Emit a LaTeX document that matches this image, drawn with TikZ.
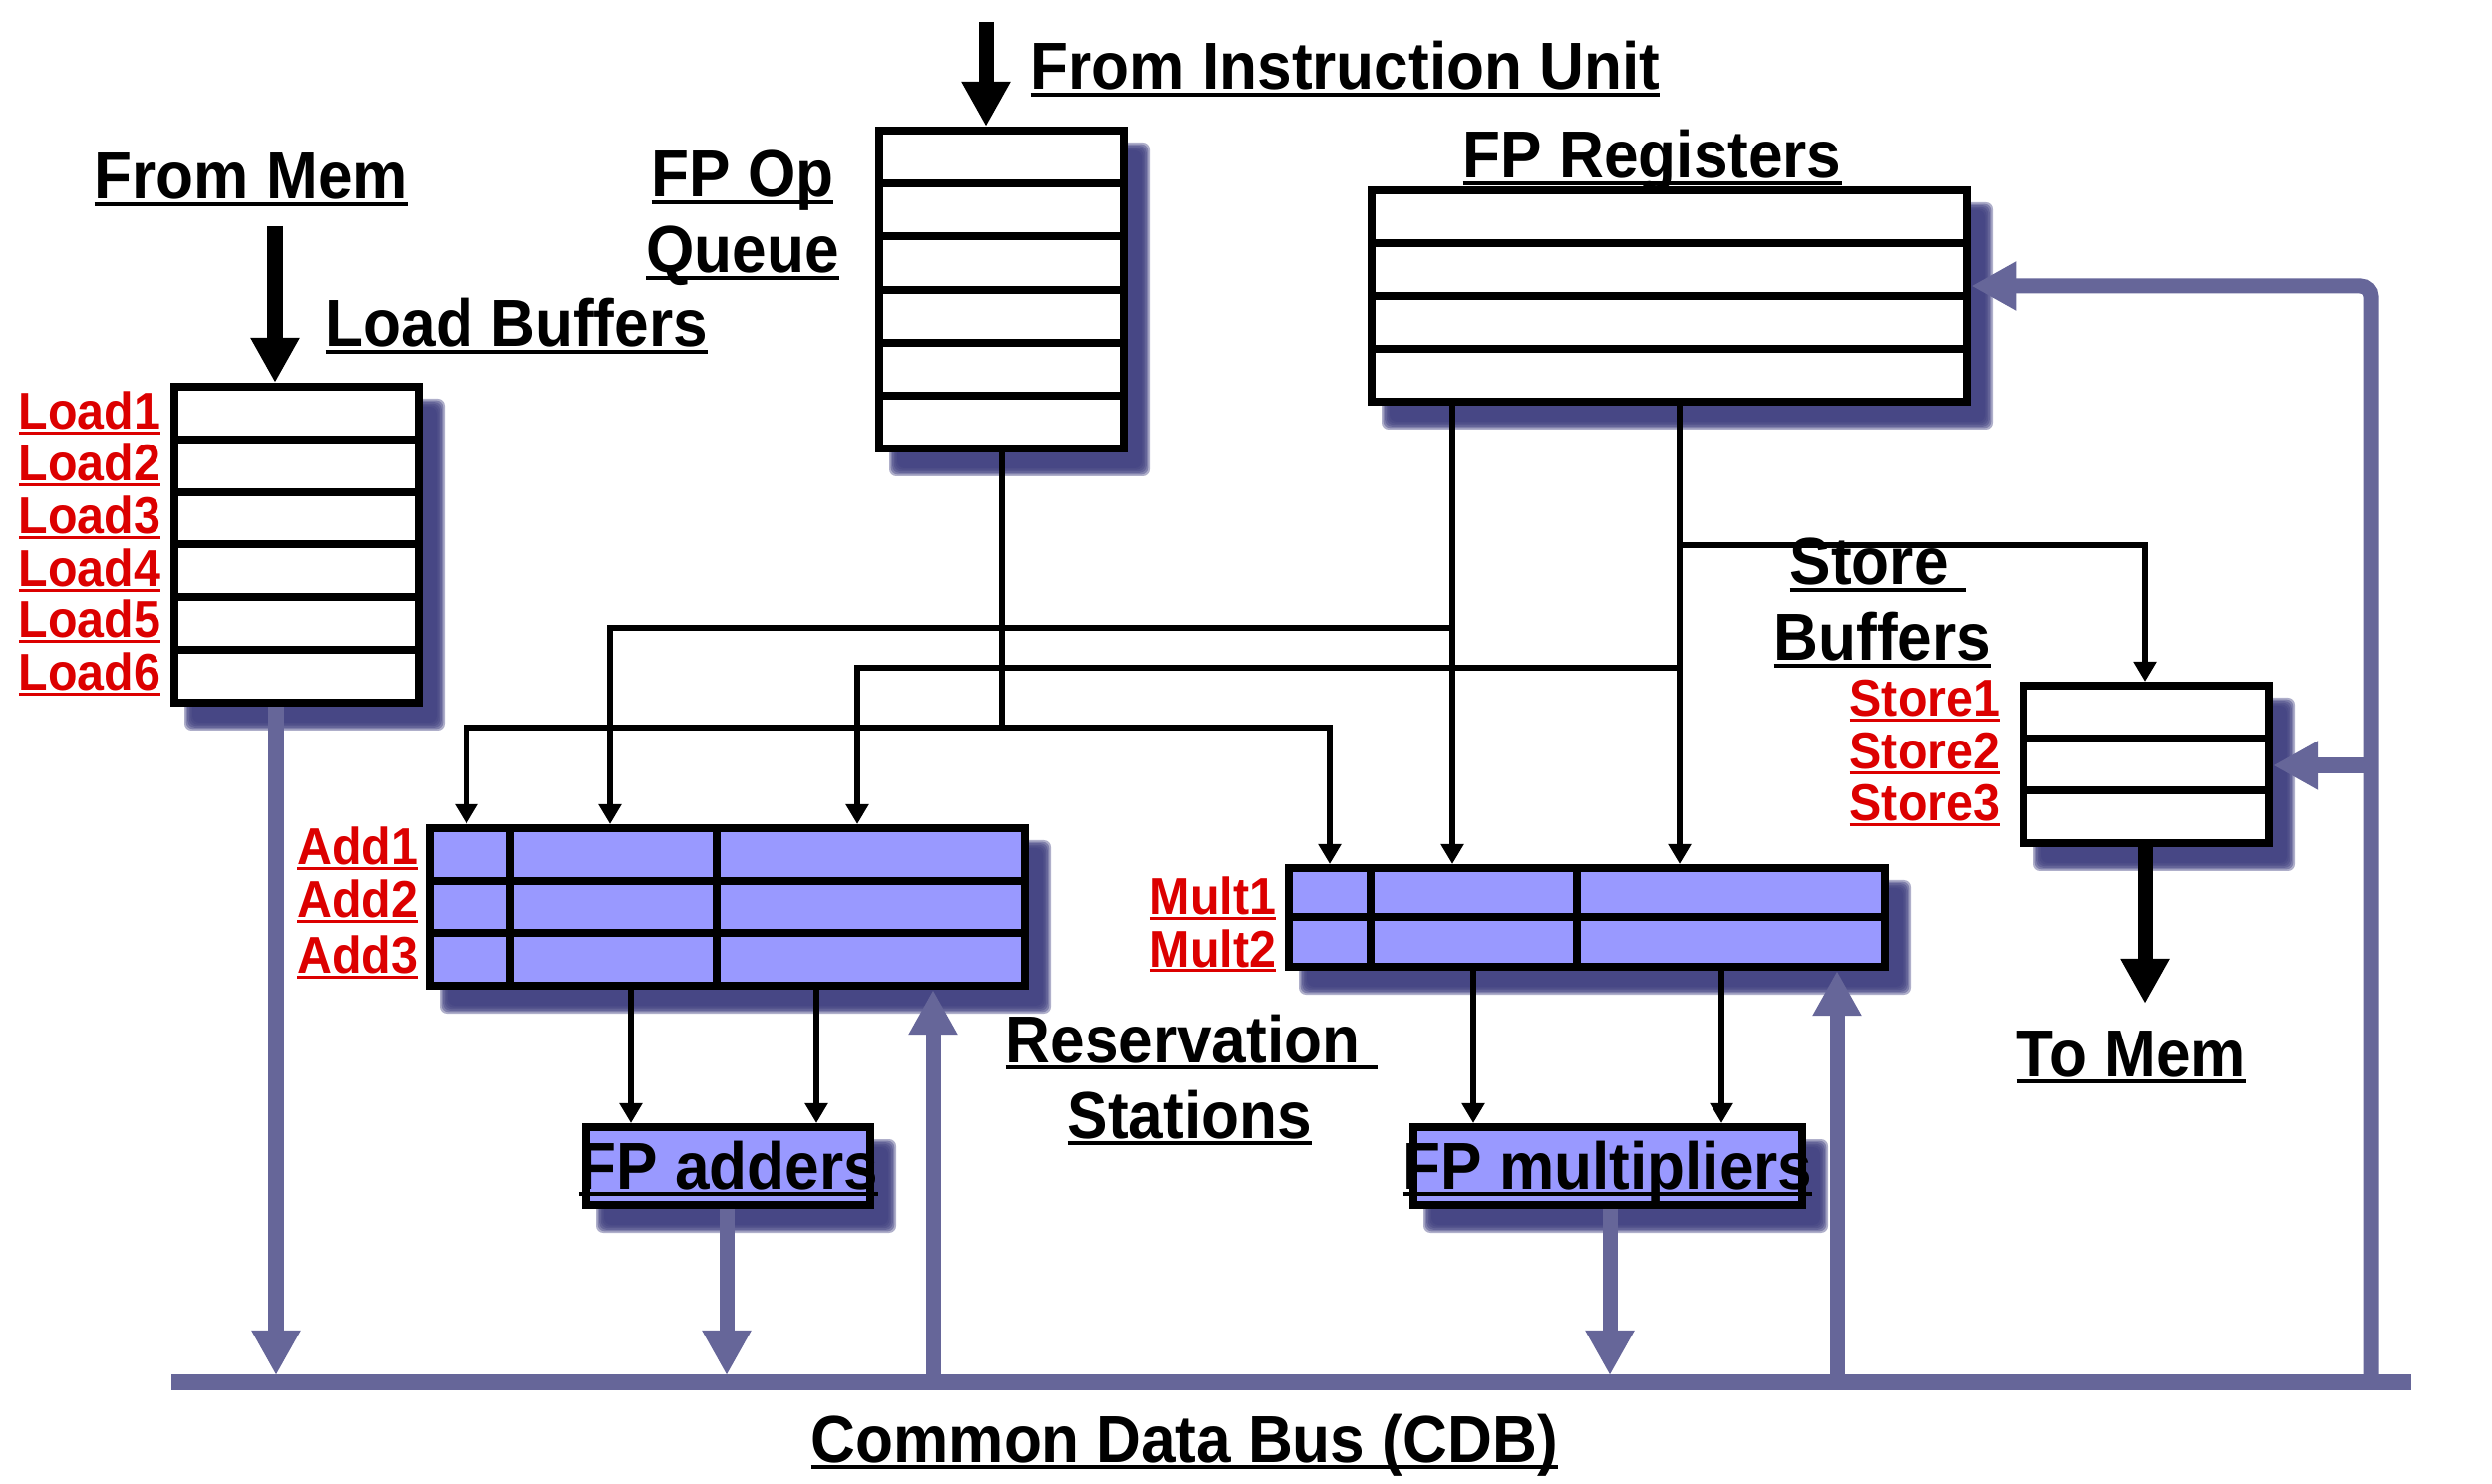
\documentclass[tikz,border=0pt]{standalone}
\usepackage{fontspec}
\usetikzlibrary{arrows.meta}
\newfontfamily\cf{Liberation Sans}[FakeStretch=0.93]
\definecolor{busc}{RGB}{102,102,153}
\definecolor{rsfill}{RGB}{153,153,255}
\definecolor{shadc}{RGB}{64,64,128}
\definecolor{labc}{RGB}{220,0,0}
\newcommand\ulx[1]{\setbox0=\hbox{#1}\rlap{\rule[-0.10em]{\wd0}{0.06em}}\box0}
\newcommand\shd[4]{\foreach \k in {0,...,5}{\fill[shadc,opacity=0.42,rounded corners=2pt] ({#1+14+\k*1.6},{#2+16+\k*1.6}) rectangle ({#3+22-\k*1.6},{#4+24-\k*1.6});}}
\tikzset{
  wbox/.style={draw=black, line width=2.28pt, fill=white, inner sep=0pt, anchor=north west},
  rbox/.style={wbox, fill=rsfill},
  rowl/.style={line width=2.28pt, black},
  conn/.style={line width=1.9pt, black},
  ctip/.style={-{Triangle[length=0.2cm,width=0.22cm]}},
  bus/.style={line width=4.27pt, busc},
  btip/.style={-{Triangle[length=0.45cm,width=0.46cm]}},
  big/.style={line width=4.27pt, black, -{Triangle[length=0.45cm,width=0.46cm]}},
  txt/.style={inner sep=0pt, font=\cf\bfseries\fontsize{19pt}{22pt}\selectfont},
  lab/.style={inner sep=0pt, text=labc, anchor=base east, font=\cf\bfseries\fontsize{14.8pt}{17pt}\selectfont},
}
\begin{document}
\begin{tikzpicture}[x=0.01cm,y=-0.01cm]
\useasboundingbox (0,0) rectangle (2500,1489);
% shadows
\shd{171}{384}{424}{709}
\shd{878}{127}{1132}{454}
\shd{1372}{187}{1977}{407}
\shd{2026}{684}{2280}{850}
\shd{427}{827}{1032}{993}
\shd{1289}{867}{1895}{974}
\shd{584}{1127}{877}{1213}
\shd{1414}{1127}{1812}{1213}
% boxes
\node[wbox, minimum width=2.45cm, minimum height=3.17cm] (lb) at (171,384) {};
\node[wbox, minimum width=2.46cm, minimum height=3.19cm] (q) at (878,127) {};
\node[wbox, minimum width=5.97cm, minimum height=2.12cm] (reg) at (1372,187) {};
\node[wbox, minimum width=2.46cm, minimum height=1.58cm] (sb) at (2026,684) {};
\node[rbox, minimum width=5.97cm, minimum height=1.58cm] (add) at (427,827) {};
\node[rbox, minimum width=5.98cm, minimum height=0.99cm] (mult) at (1289,867) {};
\node[rbox, minimum width=2.85cm, minimum height=0.78cm] (fpa) at (584,1127) {};
\node[rbox, minimum width=3.90cm, minimum height=0.78cm] (fpm) at (1414,1127) {};
% internal lines
\foreach \y in {441,494,546,599,652} \draw[rowl] (175,\y) -- (420,\y);
\foreach \y in {184,237,291,344,397} \draw[rowl] (882,\y) -- (1128,\y);
\foreach \y in {244,297,350} \draw[rowl] (1376,\y) -- (1973,\y);
\foreach \y in {741,793} \draw[rowl] (2030,\y) -- (2276,\y);
\foreach \y in {884,936} \draw[rowl] (431,\y) -- (1028,\y);
\foreach \x in {512,719} \draw[rowl] (\x,831) -- (\x,989);
\draw[rowl] (1293,920) -- (1891,920);
\foreach \x in {1375,1582} \draw[rowl] (\x,871) -- (\x,970);
% black connectors
\coordinate (qj) at (1004,730);
\coordinate (a1) at (468,730);
\coordinate (m1) at (1334,730);
\draw[conn] (q.south) -- (q.south |- qj);
\draw[conn, {Triangle[length=0.2cm,width=0.22cm]}-{Triangle[length=0.2cm,width=0.22cm]}] (a1 |- add.north) -- (a1) -- (m1) -- (m1 |- mult.north);
\coordinate (rl) at (1457,630);
\coordinate (a2) at (612,630);
\draw[conn, ctip] (reg.south -| rl) -- (rl |- mult.north);
\draw[conn, ctip] (rl) -- (a2) -- (a2 |- add.north);
\coordinate (rr) at (1685,670);
\coordinate (a3) at (860,670);
\draw[conn, ctip] (reg.south -| rr) -- (rr |- mult.north);
\draw[conn, ctip] (rr) -- (a3) -- (a3 |- add.north);
\coordinate (sj) at (1685,547);
\coordinate (sk) at (2152,547);
\draw[conn, ctip] (sj) -- (sk) -- (sk |- sb.north);
\coordinate (f1) at (633,1060);
\coordinate (f2) at (819,1060);
\coordinate (g1) at (1478,1060);
\coordinate (g2) at (1727,1060);
\draw[conn, ctip] (add.south -| f1) -- (fpa.north -| f1);
\draw[conn, ctip] (add.south -| f2) -- (fpa.north -| f2);
\draw[conn, ctip] (mult.south -| g1) -- (fpm.north -| g1);
\draw[conn, ctip] (mult.south -| g2) -- (fpm.north -| g2);
% bus
\coordinate (cdbL) at (172,1387);
\coordinate (cdbR) at (2419,1387);
\draw[bus] (cdbL) -- (cdbR);
\coordinate (b1) at (277,1380);
\coordinate (b2) at (729,1380);
\coordinate (b3) at (1615,1380);
\draw[bus, btip] (lb.south -| b1) -- (b1);
\draw[bus, btip] (fpa.south -| b2) -- (b2);
\draw[bus, btip] (fpm.south -| b3) -- (b3);
\coordinate (u1) at (936,1387);
\coordinate (u2) at (1843,1387);
\draw[bus, btip] (u1) -- (u1 |- add.south);
\draw[bus, btip] (u2) -- (u2 |- mult.south);
\coordinate (rb) at (2379,1387);
\coordinate (rt) at (2379,287);
\coordinate (rs) at (2379,768);
\draw[bus, btip, rounded corners=3pt] (rb) -- (rt) -- (rt -| reg.east);
\draw[bus, btip] (rs) -- (rs -| sb.east);
% big black arrows
\coordinate (memin) at (276,227);
\coordinate (iuin) at (989,22);
\coordinate (tomem) at (2152,1007);
\draw[big] (memin) -- (memin |- lb.north);
\draw[big] (iuin) -- (iuin |- q.north);
\draw[big] (sb.south -| tomem) -- (tomem);
% texts
\node[txt, anchor=base west] (tfm) at (94,200) {\ulx{From Mem}};
\node[txt, anchor=base west] (tlb) at (326,348) {\ulx{Load Buffers}};
\node[txt, anchor=base] (tfp) at (745,198) {\ulx{FP Op}};
\node[txt, anchor=base] (tqu) at (745,274) {\ulx{Queue}};
\node[txt, anchor=base west] (tiu) at (1033,90) {\ulx{From Instruction Unit}};
\node[txt, anchor=base west] (treg) at (1467,179) {\ulx{FP Registers}};
\node[txt, anchor=base west] (tst) at (1795,587) {\ulx{Store\ }};
\node[txt, anchor=base west] (tbu) at (1779,663) {\ulx{Buffers}};
\node[txt, anchor=base west] (ttm) at (2022,1080) {\ulx{To Mem}};
\node[txt, anchor=base west] (tres) at (1008,1066) {\ulx{Reservation\ }};
\node[txt, anchor=base west] (tsta) at (1070,1142) {\ulx{Stations}};
\node[txt, anchor=base west] (tcdb) at (813,1467) {\ulx{Common Data Bus (CDB)}};
\node[txt, anchor=base] (tfpa) at (731,1193) {\ulx{FP adders}};
\node[txt, anchor=base] (tfpm) at (1613,1193) {\ulx{FP multipliers}};
% red labels
\node[lab] (l1) at (162,431) {\ulx{Load1}};
\node[lab] (l2) at (162,483) {\ulx{Load2}};
\node[lab] (l3) at (162,536) {\ulx{Load3}};
\node[lab] (l4) at (162,589) {\ulx{Load4}};
\node[lab] (l5) at (162,640) {\ulx{Load5}};
\node[lab] (l6) at (162,693) {\ulx{Load6}};
\node[lab] (ad1) at (420,868) {\ulx{Add1}};
\node[lab] (ad2) at (420,921) {\ulx{Add2}};
\node[lab] (ad3) at (420,977) {\ulx{Add3}};
\node[lab] (mu1) at (1281,918) {\ulx{Mult1}};
\node[lab] (mu2) at (1281,970) {\ulx{Mult2}};
\node[lab] (st1) at (2007,719) {\ulx{Store1}};
\node[lab] (st2) at (2007,772) {\ulx{Store2}};
\node[lab] (st3) at (2007,824) {\ulx{Store3}};
\end{tikzpicture}
\end{document}
